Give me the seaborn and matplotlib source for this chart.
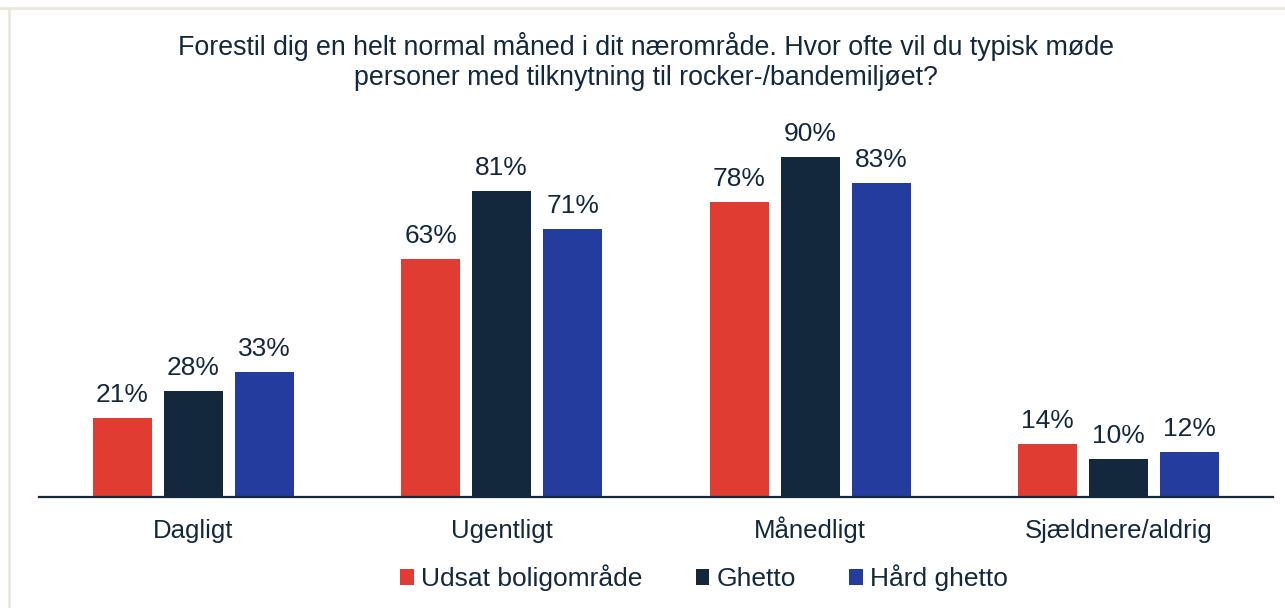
import matplotlib
matplotlib.use("Agg")
import matplotlib.pyplot as plt
from matplotlib.lines import Line2D
from matplotlib.patches import Patch
import pandas as pd
import seaborn as sns

categories = ["Dagligt", "Ugentligt", "Månedligt", "Sjældnere/aldrig"]
series_names = ["Udsat boligområde", "Ghetto", "Hård ghetto"]
udsat = [21, 63, 78, 14]
ghetto = [28, 81, 90, 10]
haard = [33, 71, 83, 12]
colors = ["#E03C31", "#13283C", "#253C9F"]
text_color = "#13283C"
title = ("Forestil dig en helt normal måned i dit nærområde. Hvor ofte vil du typisk møde\n"
         "personer med tilknytning til rocker-/bandemiljøet?")

rows = []
for name, vals in zip(series_names, [udsat, ghetto, haard]):
    for cat, v in zip(categories, vals):
        rows.append({"kategori": cat, "gruppe": name, "andel": v})
df = pd.DataFrame(rows)

sns.set_theme(style="white")
plt.rcParams["font.family"] = ["Liberation Sans", "DejaVu Sans"]

fig = plt.figure(figsize=(12.85, 6.08), dpi=100)
ax = fig.add_axes([39 / 1285, 111 / 608, 1234 / 1285, 378 / 608])

sns.barplot(data=df, x="kategori", y="andel", hue="gruppe", order=categories,
            hue_order=series_names, palette=colors, width=0.69, gap=0.17,
            saturation=1, legend=False, ax=ax, linewidth=0)

for cont in ax.containers:
    vals = [b.get_height() for b in cont]
    ax.bar_label(cont, labels=[f"{v:.0f}%" for v in vals], padding=8,
                 fontsize=19, color=text_color)

ax.set_xlim(-0.5, 3.5)
ax.set_ylim(0, 100)
ax.set_xlabel("")
ax.set_ylabel("")
ax.set_yticks([])
for s in ["top", "right", "left"]:
    ax.spines[s].set_visible(False)
ax.spines["bottom"].set_color(text_color)
ax.spines["bottom"].set_linewidth(1.6)
# category names share one baseline regardless of accents
ax.tick_params(axis="x", length=0, pad=29.5, labelsize=18.5, labelcolor=text_color)
for lbl in ax.get_xticklabels():
    lbl.set_verticalalignment("baseline")

fig.text(646 / 1285, 1 - 32 / 608, title, ha="center", va="top", fontsize=19.3,
         color=text_color, linespacing=1.22)

handles = [Patch(facecolor=c, edgecolor="none") for c in colors]
fig.legend(handles, series_names, loc="center", bbox_to_anchor=(704 / 1285, 1 - 578 / 608),
           ncol=3, frameon=False, fontsize=19, handlelength=0.53, handleheight=0.53,
           handletextpad=0.27, columnspacing=2.0, labelcolor=text_color)

# thin beige frame lines along the top and left edges
fig.add_artist(Line2D([0, 1], [1 - 7.5 / 608, 1 - 7.5 / 608], transform=fig.transFigure,
                      color="#ECE7DC", linewidth=2))
fig.add_artist(Line2D([8.5 / 1285, 8.5 / 1285], [0, 1 - 7.5 / 608], transform=fig.transFigure,
                      color="#ECE7DC", linewidth=2))

fig.savefig("out.png", dpi=100, facecolor="white")
